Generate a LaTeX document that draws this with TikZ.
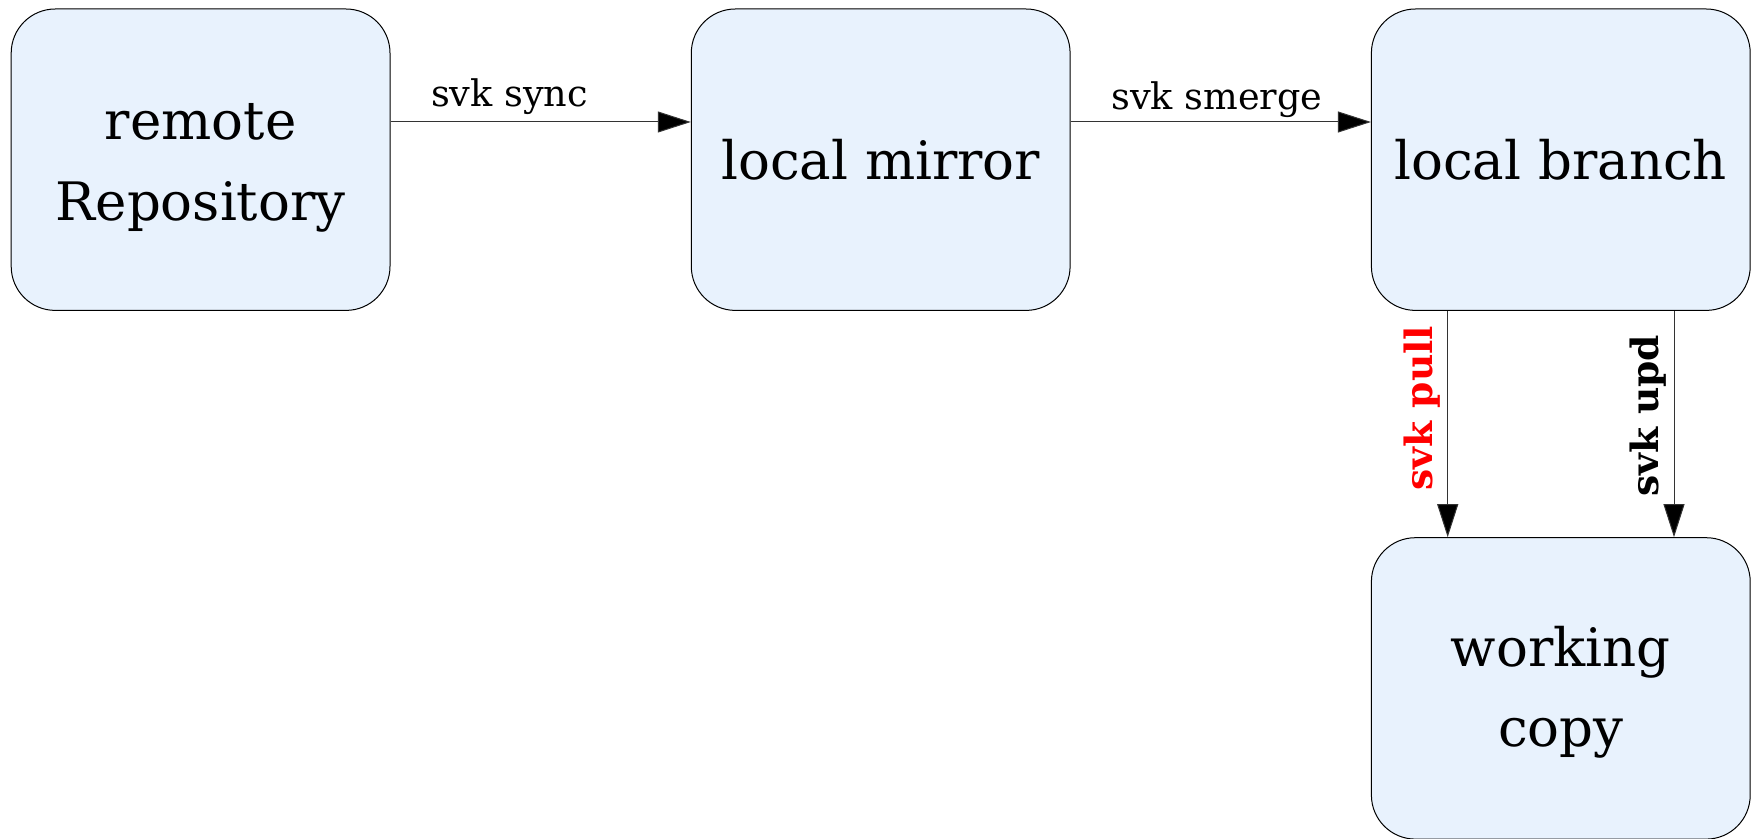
\documentclass[tikz,border=0pt]{standalone}
\usepackage{fontspec}
\setmainfont{DejaVu Serif}
\usetikzlibrary{arrows.meta}
\definecolor{boxfill}{RGB}{232,242,253}
\definecolor{pullred}{RGB}{255,0,0}
\begin{document}
\begin{tikzpicture}[x=0.5pt,y=-0.5pt,
  repo/.style={draw=black, line width=0.5pt, fill=boxfill, rounded corners=22pt,
    minimum width=189.4pt, minimum height=150.7pt, inner sep=0pt, align=center,
    font=\fontsize{26.5}{40.3}\selectfont},
  flow/.style={draw=black!80, line width=0.5pt, -{Triangle[length=16.5pt,width=10.5pt,fill=black]}},
  cmd/.style={font=\fontsize{18.3}{20}\selectfont, anchor=base, inner sep=0pt},
  boldcmd/.style={font=\fontsize{18.8}{20}\selectfont\bfseries, rotate=90, anchor=base, inner sep=0pt}]
\useasboundingbox (0,0) rectangle (1757,839);

% repositories and working copy
\node[repo] (remote) at (200.6,159.7) {\rule{0pt}{26pt}remote\\Repository};
\node[repo] (mirror) at (880.7,159.7) {local mirror};
\node[repo] (branch) at (1560.8,159.7) {local branch};
\node[repo] (work)   at (1560.8,688.4) {\rule{0pt}{24pt}working\\copy};

% horizontal transfers
\draw[flow] ([yshift=18.85pt]remote.east) -- ([yshift=18.85pt]mirror.west)
  node[cmd, pos=0.396, yshift=7.85pt] {svk sync};
\draw[flow] ([yshift=18.85pt]mirror.east) -- ([yshift=18.85pt]branch.west)
  node[cmd, pos=0.487, yshift=6.2pt] {svk smerge};

% updates of the working copy
\draw[flow] ([xshift=-56.55pt]branch.south) -- ([xshift=-56.55pt]work.north)
  node[boldcmd, text=pullred, pos=0.43, yshift=7.85pt] {svk pull};
\draw[flow] ([xshift=56.6pt]branch.south) -- ([xshift=56.6pt]work.north)
  node[boldcmd, pos=0.464, yshift=7.85pt] {svk upd};
\end{tikzpicture}
\end{document}
